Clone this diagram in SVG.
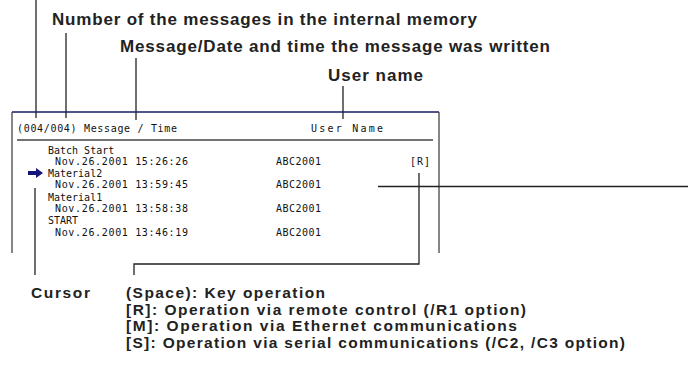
<svg xmlns="http://www.w3.org/2000/svg" width="688" height="376" viewBox="0 0 688 376">
<style>
.lbl{font-family:"Liberation Sans",Arial,sans-serif;font-weight:bold;font-size:17px;fill:#222}
.sm{font-size:15.5px}
.scr{font-family:"DejaVu Sans Mono","Liberation Mono",monospace;font-size:10px;fill:#111}
.ld{stroke:#222;stroke-width:1.3;fill:none}
.frm{stroke:#444;stroke-width:1.3;fill:none}
</style>
<rect width="688" height="376" fill="#fff"/>
<g id="screen">
<line x1="12" y1="112" x2="439" y2="112" stroke="#1a1a66" stroke-width="1.6"/>
<polyline class="frm" points="12,112 12,253"/>
<polyline class="frm" points="439,112 439,253"/>
<line class="frm" x1="17" y1="140" x2="433" y2="140"/>
<text class="scr" x="17" y="132" textLength="160">(004/004) Message / Time</text>
<text class="scr" x="311" y="132" textLength="72">User Name</text>
</g>
<g id="rows">
<text class="scr" x="48" y="153.5">Batch Start</text>
<text class="scr" x="55" y="165" textLength="133">Nov.26.2001 15:26:26</text>
<text class="scr" x="276" y="165" textLength="45">ABC2001</text>
<text class="scr" x="410" y="165" textLength="20">[R]</text>
<text class="scr" x="48" y="177">Material2</text>
<text class="scr" x="55" y="188" textLength="133">Nov.26.2001 13:59:45</text>
<text class="scr" x="276" y="188" textLength="45">ABC2001</text>
<text class="scr" x="48" y="200.5">Material1</text>
<text class="scr" x="55" y="212" textLength="133">Nov.26.2001 13:58:38</text>
<text class="scr" x="276" y="212" textLength="45">ABC2001</text>
<text class="scr" x="48" y="224">START</text>
<text class="scr" x="55" y="235.5" textLength="133">Nov.26.2001 13:46:19</text>
<text class="scr" x="276" y="235.5" textLength="45">ABC2001</text>
</g>
<g id="cursor-arrow">
<path d="M28,171 H36 V168 L43,173 L36,178 V175 H28 Z" fill="#14147a"/>
</g>
<g id="connectors">
<line class="ld" x1="36" y1="0" x2="36" y2="118"/>
<line class="ld" x1="66" y1="33" x2="66" y2="118"/>
<line class="ld" x1="136" y1="58" x2="136" y2="120"/>
<line class="ld" x1="343" y1="86" x2="343" y2="119"/>
<polyline class="ld" points="419,173 419,264 134,264 134,275" stroke="#444"/>
<line class="ld" x1="35" y1="188" x2="35" y2="275"/>
<line class="ld" x1="378" y1="186.5" x2="688" y2="186.5" stroke="#444"/>
</g>
<g id="labels">
<text class="lbl" x="52" y="25" textLength="425">Number of the messages in the internal memory</text>
<text class="lbl" x="120" y="52" textLength="430">Message/Date and time the message was written</text>
<text class="lbl" x="328" y="81" textLength="95">User name</text>
<text class="lbl sm" x="31" y="298" textLength="59">Cursor</text>
<text class="lbl sm" x="126" y="298" textLength="199">(Space): Key operation</text>
<text class="lbl sm" x="126" y="314.5" textLength="400">[R]: Operation via remote control (/R1 option)</text>
<text class="lbl sm" x="126" y="331" textLength="391">[M]: Operation via Ethernet communications</text>
<text class="lbl sm" x="126" y="347.5" textLength="499">[S]: Operation via serial communications (/C2, /C3 option)</text>
</g>
</svg>
